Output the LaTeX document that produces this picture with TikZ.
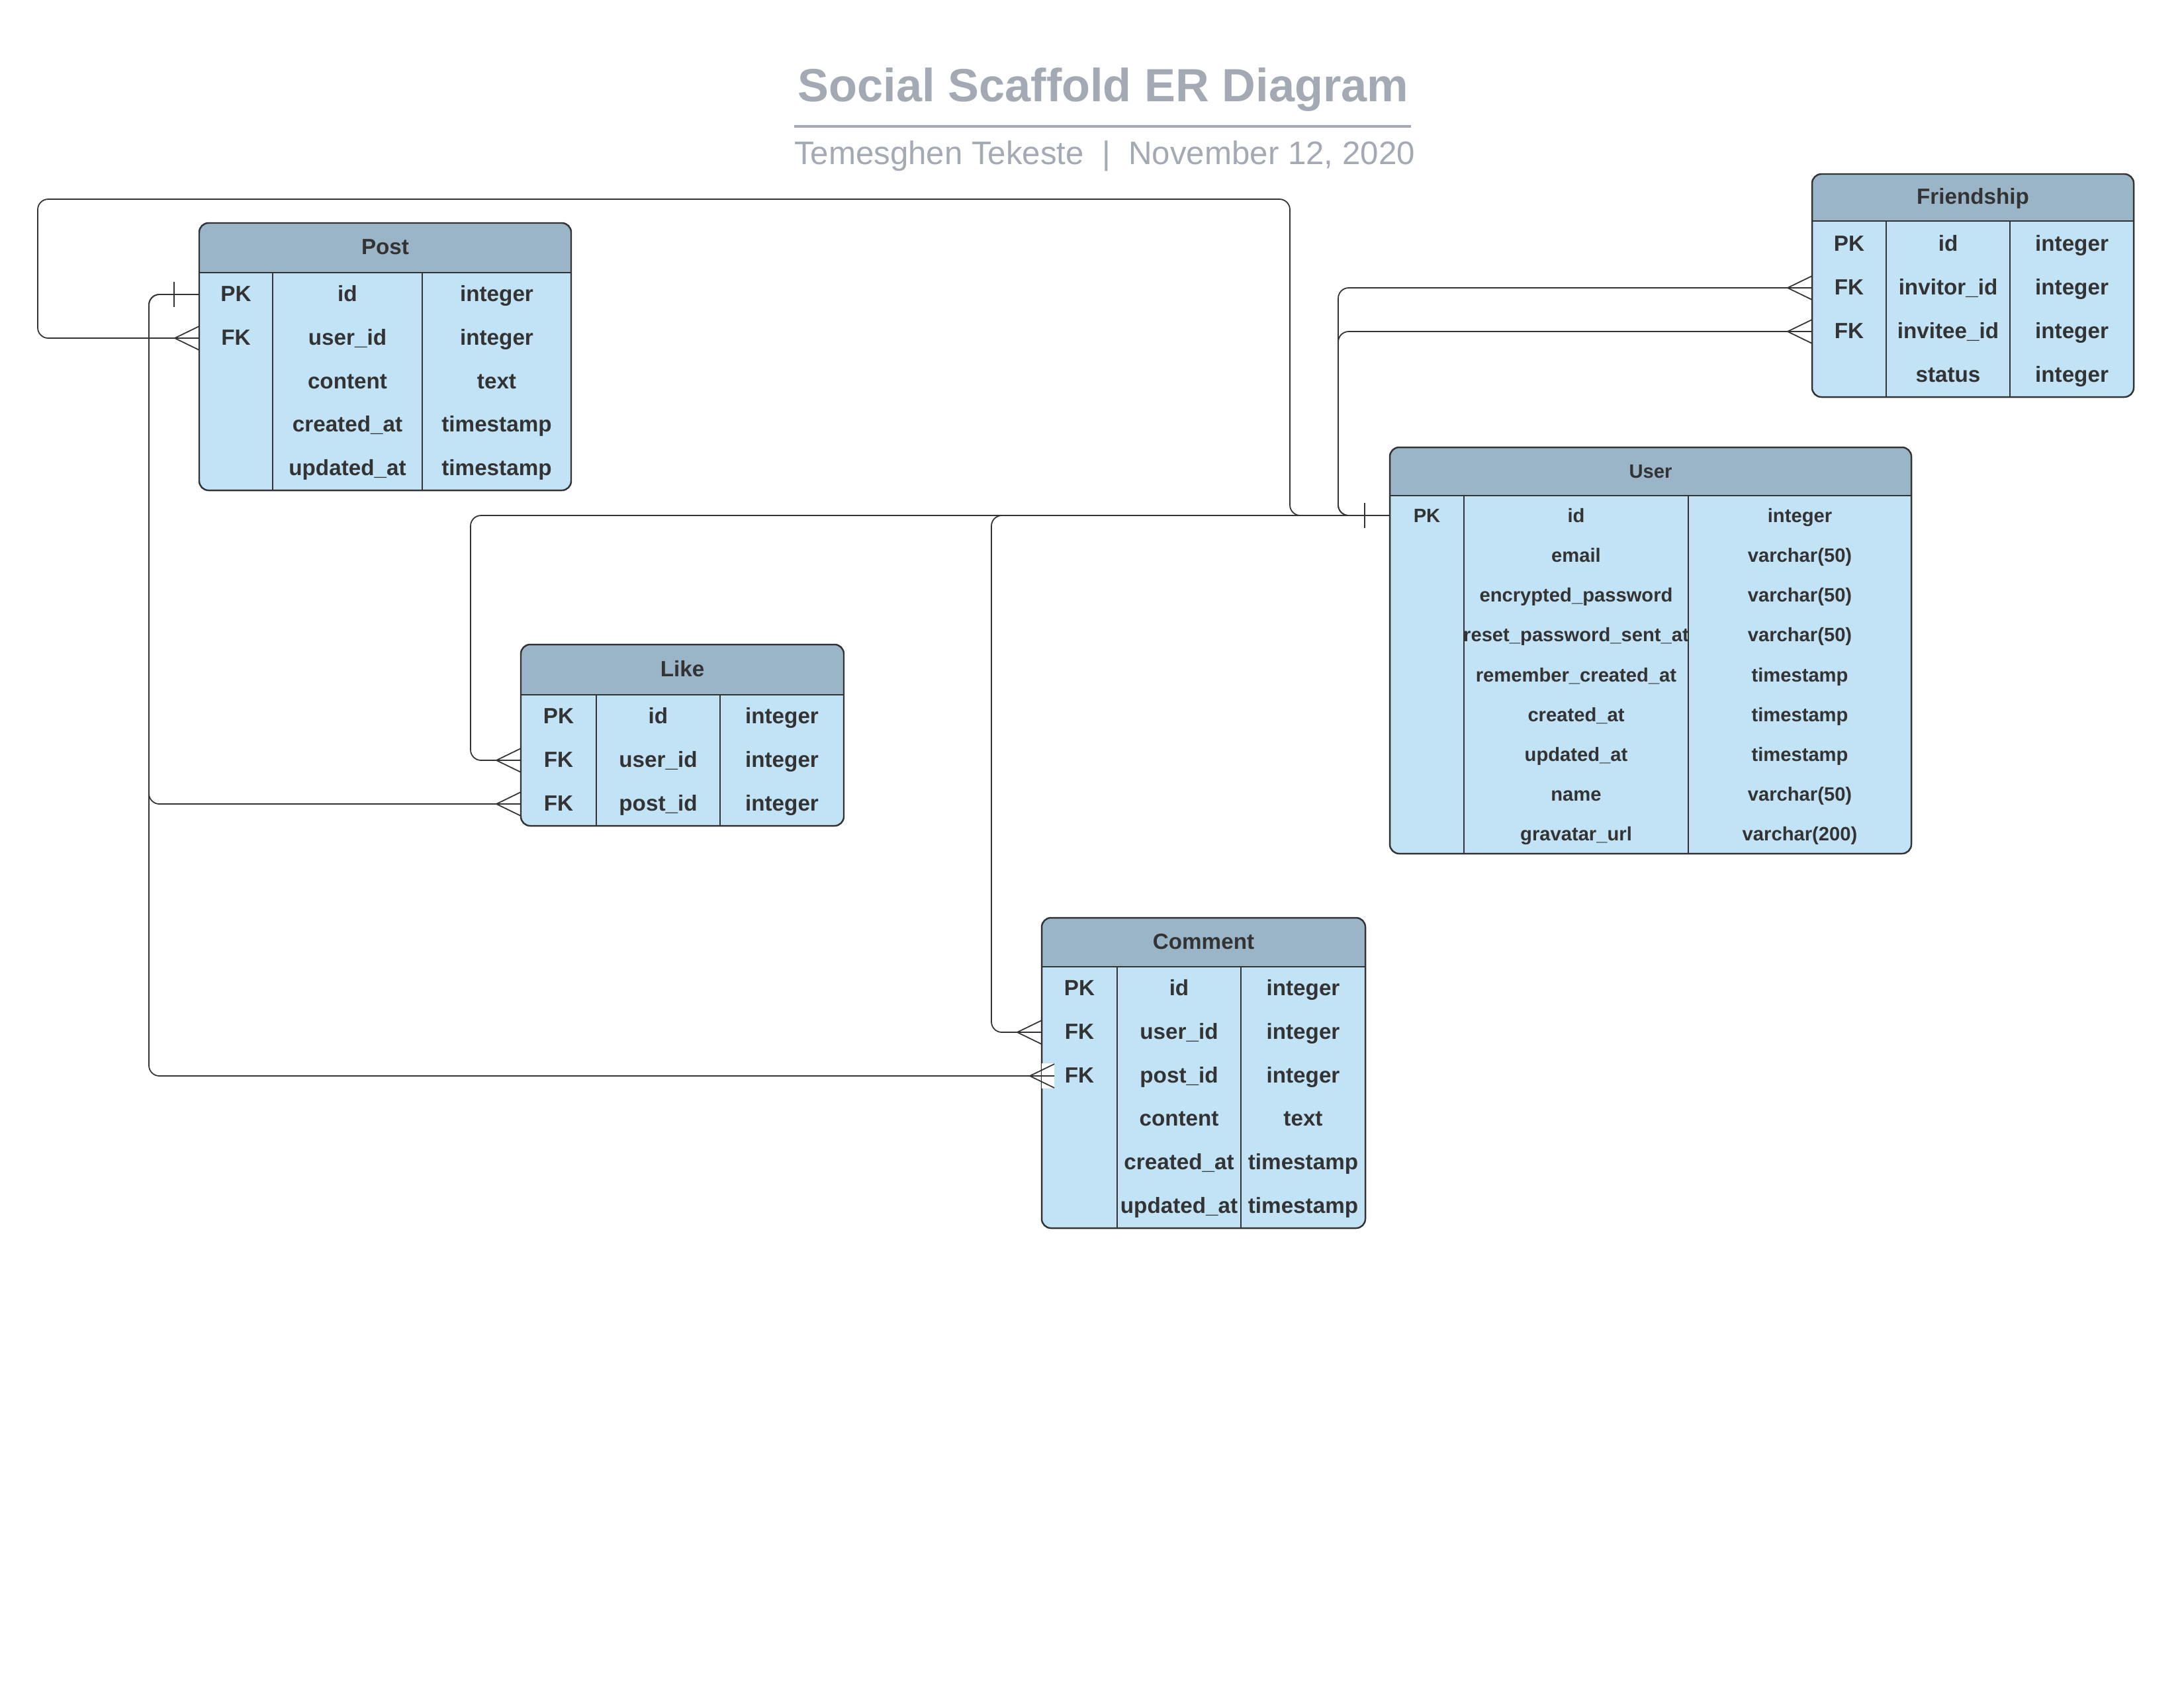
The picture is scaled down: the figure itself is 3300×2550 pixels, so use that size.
\documentclass[tikz,border=0pt]{standalone}
\usepackage{fontspec}
\setmainfont{Liberation Sans}
\usetikzlibrary{calc}
\definecolor{headc}{HTML}{9BB5C8}
\definecolor{bodyc}{HTML}{C2E3F5}
\definecolor{inkc}{HTML}{333333}
\definecolor{titlec}{HTML}{A3AAB4}
\definecolor{linec}{HTML}{333333}
\tikzset{
  gridline/.style={draw=linec, line width=0.5pt},
  tablebox/.style={draw=linec, line width=0.7pt, rounded corners=4pt, inner sep=0pt, outer sep=0pt},
  celltext/.style={text=inkc, inner sep=0pt, outer sep=0pt, text height=7.9pt, text depth=2pt},
  conn/.style={draw=linec, line width=0.5pt, rounded corners=4.5pt},
  crowl/.style={draw=linec, line width=0.5pt},
  tfont/.style={font=\bfseries\fontsize{9.45}{11}\selectfont},
  ufont/.style={font=\bfseries\fontsize{8.3}{10}\selectfont}
}
% name, x0, x1, ytop, yhead, ybot, c1, c2, title
\newcommand{\ertable}[9]{%
  \fill[bodyc, rounded corners=4pt] (#2,#4) rectangle (#3,#6);
  \begin{scope}
    \clip[rounded corners=4pt] (#2,#4) rectangle (#3,#6);
    \fill[headc] (#2,#4) rectangle (#3,#5);
  \end{scope}
  \draw[gridline] (#2,#5) -- (#3,#5);
  \draw[gridline] (#7,#5) -- (#7,#6);
  \draw[gridline] (#8,#5) -- (#8,#6);
  \node[tablebox, minimum width={(#3-#2)*0.01cm}, minimum height={(#6-#4)*0.01cm}] (#1) at ({(#2+#3)/2},{(#4+#6)/2}) {};
  \node[celltext] (#1-title) at ({(#2+#3)/2},{(#4+#5)/2}) {#9};
}
% name, x0, c1, c2, x1, y, key, field, type
\newcommand{\errow}[9]{%
  \node[celltext, minimum width={(#3-#2)*0.01cm}] (#1) at ({(#2+#3)/2},#6) {#7};
  \node[celltext] (#1-f) at ({(#3+#4)/2},#6) {#8};
  \node[celltext] (#1-t) at ({(#4+#5)/2},#6) {#9};
}
\newcommand{\crowfoot}[2][0]{%
  \draw[crowl] ($(#2.west)+({#1},-18)$) -- ($(#2.west)+({#1-37},0)$) -- ($(#2.west)+({#1},18)$);}
\newcommand{\onebar}[1]{%
  \draw[crowl] ($(#1.west)+(-38,-19)$) -- ($(#1.west)+(-38,19)$);}

\begin{document}
\begin{tikzpicture}[x=0.01cm, y=-0.01cm]
\path[use as bounding box, fill=white] (0,0) rectangle (3300,2550);

% title
\node[anchor=base, text=titlec, font=\bfseries\fontsize{20}{24}\selectfont, inner sep=0pt] (title) at (1667,153) {Social Scaffold ER Diagram};
\coordinate (ulA) at (1200,191);
\coordinate (ulB) at (2132,191);
\draw[titlec, line width=1.2pt] (ulA) -- (ulB);
\node[anchor=base, text=titlec, font=\fontsize{14}{17}\selectfont, inner sep=0pt] (subtitle) at (1669,248) {Temesghen Tekeste \ | \ November 12, 2020};

% Post
\begin{scope}[tfont]
\ertable{post}{301}{863}{337}{412}{741}{412}{638}{Post}
\errow{post-r1}{301}{412}{638}{863}{445}{PK}{id}{integer}
\errow{post-r2}{301}{412}{638}{863}{511}{FK}{user\_id}{integer}
\errow{post-r3}{301}{412}{638}{863}{577}{}{content}{text}
\errow{post-r4}{301}{412}{638}{863}{642}{}{created\_at}{timestamp}
\errow{post-r5}{301}{412}{638}{863}{708}{}{updated\_at}{timestamp}
\end{scope}

% Friendship
\begin{scope}[tfont]
\ertable{fr}{2738}{3224}{263}{334}{600}{2850}{3037}{Friendship}
\errow{fr-r1}{2738}{2850}{3037}{3224}{369}{PK}{id}{integer}
\errow{fr-r2}{2738}{2850}{3037}{3224}{435}{FK}{invitor\_id}{integer}
\errow{fr-r3}{2738}{2850}{3037}{3224}{501}{FK}{invitee\_id}{integer}
\errow{fr-r4}{2738}{2850}{3037}{3224}{567}{}{status}{integer}
\end{scope}

% User
\begin{scope}[ufont]
\ertable{user}{2100}{2888}{676}{749}{1290}{2212}{2551}{User}
\errow{user-r1}{2100}{2212}{2551}{2888}{779}{PK}{id}{integer}
\errow{user-r2}{2100}{2212}{2551}{2888}{839}{}{email}{varchar(50)}
\errow{user-r3}{2100}{2212}{2551}{2888}{899}{}{encrypted\_password}{varchar(50)}
\errow{user-r4}{2100}{2212}{2551}{2888}{959}{}{reset\_password\_sent\_at}{varchar(50)}
\errow{user-r5}{2100}{2212}{2551}{2888}{1020}{}{remember\_created\_at}{timestamp}
\errow{user-r6}{2100}{2212}{2551}{2888}{1080}{}{created\_at}{timestamp}
\errow{user-r7}{2100}{2212}{2551}{2888}{1140}{}{updated\_at}{timestamp}
\errow{user-r8}{2100}{2212}{2551}{2888}{1200}{}{name}{varchar(50)}
\errow{user-r9}{2100}{2212}{2551}{2888}{1260}{}{gravatar\_url}{varchar(200)}
\end{scope}

% Like
\begin{scope}[tfont]
\ertable{like}{787}{1275}{974}{1050}{1248}{901}{1088}{Like}
\errow{like-r1}{787}{901}{1088}{1275}{1083}{PK}{id}{integer}
\errow{like-r2}{787}{901}{1088}{1275}{1149}{FK}{user\_id}{integer}
\errow{like-r3}{787}{901}{1088}{1275}{1215}{FK}{post\_id}{integer}
\end{scope}

% Comment
\begin{scope}[tfont]
\ertable{comm}{1574}{2063}{1387}{1461}{1856}{1688}{1875}{Comment}
\errow{comm-r1}{1574}{1688}{1875}{2063}{1494}{PK}{id}{integer}
\errow{comm-r2}{1574}{1688}{1875}{2063}{1560}{FK}{user\_id}{integer}
\errow{comm-r3}{1574}{1688}{1875}{2063}{1626}{FK}{post\_id}{integer}
\errow{comm-r4}{1574}{1688}{1875}{2063}{1691}{}{content}{text}
\errow{comm-r5}{1574}{1688}{1875}{2063}{1757}{}{created\_at}{timestamp}
\errow{comm-r6}{1574}{1688}{1875}{2063}{1823}{}{updated\_at}{timestamp}
\end{scope}

% connectors
\coordinate (pA) at (57,301);
\coordinate (pB) at (1949,301);
\draw[conn] (post-r2.west) -| (pA) -- (pB) |- (user-r1.west);
\crowfoot{post-r2}

\draw[conn] (fr-r2.west) -| ($(user-r1.west)+(-78,0)$) -- (user-r1.west);
\draw[conn] (fr-r3.west) -| ($(user-r1.west)+(-78,0)$) -- (user-r1.west);
\crowfoot{fr-r2}
\crowfoot{fr-r3}

\coordinate (lk) at (711,779);
\draw[conn] (like-r2.west) -| (lk) -- (user-r1.west);
\crowfoot{like-r2}

\coordinate (cm) at (1498,779);
\draw[conn] (comm-r2.west) -| (cm) -- (user-r1.west);
\crowfoot{comm-r2}

\onebar{user-r1}

\coordinate (pkbus) at (225,445);
\draw[conn] (post-r1.west) -| (pkbus |- like-r3.west) -- (like-r3.west);
\crowfoot{like-r3}
\fill[white] ($(comm-r3.west)+(0,-19)$) rectangle ($(comm-r3.west)+(19,19)$);
\draw[conn] (post-r1.west) -| (pkbus |- comm-r3.west) -- ($(comm-r3.west)+(19,0)$);
\crowfoot[19]{comm-r3}
\onebar{post-r1}
\end{tikzpicture}
\end{document}
